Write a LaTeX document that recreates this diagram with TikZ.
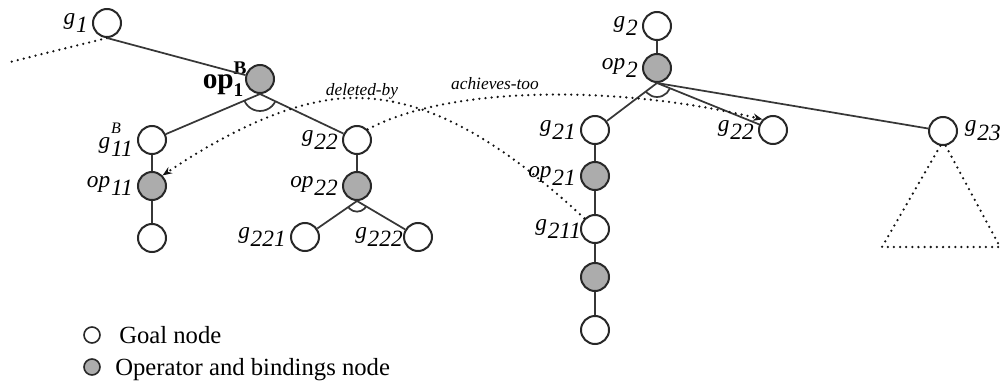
\documentclass[tikz,border=0pt]{standalone}
\usepackage{fontspec}
\setmainfont{Liberation Serif}
\usetikzlibrary{arrows.meta}

\definecolor{nodeline}{RGB}{40,40,40}
\definecolor{edgeline}{RGB}{55,55,55}
\definecolor{opfill}{RGB}{172,172,172}
\definecolor{dotcol}{RGB}{20,20,20}

% italic name with a lowered index, optionally with a raised tag
\newcommand{\sublab}[2]{\textit{#1}\kern0.6pt\raisebox{-0.38em}{\textit{#2}}}
\newcommand{\supsublab}[3]{\textit{#1}\kern0.6pt\rlap{\raisebox{0.62em}{\fontsize{12}{12}\selectfont\textit{#3}}}\raisebox{-0.38em}{\textit{#2}}}
\newcommand{\boldoplab}{{\fontsize{22}{22}\selectfont\bfseries op}\rlap{\raisebox{10.5pt}{\fontsize{14.5}{14.5}\selectfont\bfseries B}}\raisebox{-6pt}{\fontsize{14.5}{14.5}\selectfont\bfseries 1}}

\begin{document}
\begin{tikzpicture}[x=0.75pt, y=-0.75pt,
  goal/.style={circle, draw=nodeline, fill=white, line width=1.5pt, minimum size=21pt, inner sep=0pt},
  opnode/.style={goal, fill=opfill},
  edge/.style={draw=edgeline, line width=1.3pt},
  rel/.style={draw=dotcol, line width=1.9pt, dash pattern=on 0pt off 4.6pt, line cap=round},
  reltip/.style={-{Stealth[length=7pt, width=5.5pt]}},
  lbl/.style={font=\fontsize{17.5}{17.5}\selectfont, inner sep=0pt},
  rellbl/.style={font=\fontsize{13}{13}\selectfont\itshape, inner sep=0pt},
  legtext/.style={font=\fontsize{18.5}{18.5}\selectfont, inner sep=0pt},
  label distance=3pt]

\useasboundingbox (0,0) rectangle (1002,381);

% ---- left plan tree ----
\node[goal, label={[lbl]left:\sublab{g}{1}}] (g1) at (107,23) {};
\node[opnode, label={[inner sep=0pt, label distance=1pt]left:\boldoplab}] (op1) at (260,79) {};
\node[goal, label={[lbl]left:\supsublab{g}{11}{B}}] (g11) at (152,140) {};
\node[opnode, label={[lbl]left:\sublab{op}{11}}] (op11) at (152,186) {};
\node[goal] (g111) at (152,238) {};
\node[goal, label={[lbl]left:\sublab{g}{22}}] (g22L) at (357,140) {};
\node[opnode, label={[lbl]left:\sublab{op}{22}}] (op22) at (357,186) {};
\node[goal, label={[lbl]left:\sublab{g}{221}}] (g221) at (305,237) {};
\node[goal, label={[lbl, label distance=0pt]left:\sublab{g}{222}}] (g222) at (418,237) {};

% ---- right plan tree ----
\node[goal, label={[lbl]left:\sublab{g}{2}}] (g2) at (657,26) {};
\node[opnode, label={[lbl]left:\sublab{op}{2}}] (op2) at (657,68) {};
\node[goal, label={[lbl]left:\sublab{g}{21}}] (g21) at (595,130) {};
\node[opnode, label={[lbl]left:\sublab{op}{21}}] (op21) at (595,176) {};
\node[goal, label={[lbl, label distance=-1pt]left:\sublab{g}{211}}] (g211) at (595,229) {};
\node[opnode] (op211) at (595,277) {};
\node[goal] (g2111) at (595,330) {};
\node[goal, label={[lbl]left:\sublab{g}{22}}] (g22R) at (773,130) {};
\node[goal, label={[lbl, label distance=5pt]right:\sublab{g}{23}}] (g23) at (943,131) {};

% ---- tree edges ----
\coordinate (g1in) at (10,62);
\draw[rel] (g1.south) -- (g1in);
\draw[edge] (g1.south) -- (op1);
\draw[edge] (op1.south) -- (g11);
\draw[edge] (op1.south) -- (g22L);
\draw[edge] (g11) -- (op11) -- (g111);
\draw[edge] (g22L) -- (op22);
\draw[edge] (op22.south) -- (g221);
\draw[edge] (op22.south) -- (g222);
\draw[edge] (g2) -- (op2);
\draw[edge] (op2.south) -- (g21);
\draw[edge] (op2.south) -- (g22R);
\draw[edge] (op2.south) -- (g23);
\draw[edge] (g21) -- (op21) -- (g211) -- (op211) -- (g2111);

% ---- AND arcs below the operator nodes ----
\begin{scope}
  \clip (op1.south) -- (g11.center) -- (g22L.center) -- cycle;
  \draw[edge] (op1.south) circle[radius=12.75pt];
\end{scope}
\begin{scope}
  \clip (op22.south) -- (g221.center) -- (g222.center) -- cycle;
  \draw[edge] (op22.south) circle[radius=8pt];
\end{scope}
\begin{scope}
  \clip (op2.south) -- (g21.center) -- (g22R.center) -- cycle;
  \draw[edge] (op2.south) circle[radius=10.5pt];
\end{scope}

% ---- unexpanded subtree below g23 ----
\coordinate (tri-l) at (882,247);
\coordinate (tri-r) at (1000,247);
\draw[rel] (g23.-100) -- (tri-l) -- (tri-r) -- (g23.-80);

% ---- interaction links ----
\coordinate (dbpeak) at (360,98);
\draw[rel, reltip] (g211.north west) .. controls (500,140) and (430,100) .. (dbpeak)
  .. controls (300,96) and (230,130) .. (op11.north east);
\draw[rel, reltip] (g22L.north east) .. controls (450,85) and (620,85) .. (g22R.north west);
\node[rellbl] (delby) at (362,91) {deleted-by};
\node[rellbl] (achtoo) at (495,84) {achieves-too};

% ---- legend ----
\node[goal, minimum size=12pt, line width=1.2pt] (lg1) at (92,335) {};
\node[opnode, minimum size=12pt, line width=1.2pt] (lg2) at (92,367) {};
\node[legtext, anchor=base west] (lg1t) at (119,343.5) {Goal node};
\node[legtext, anchor=base west] (lg2t) at (115,375) {Operator and bindings node};
\end{tikzpicture}
\end{document}
